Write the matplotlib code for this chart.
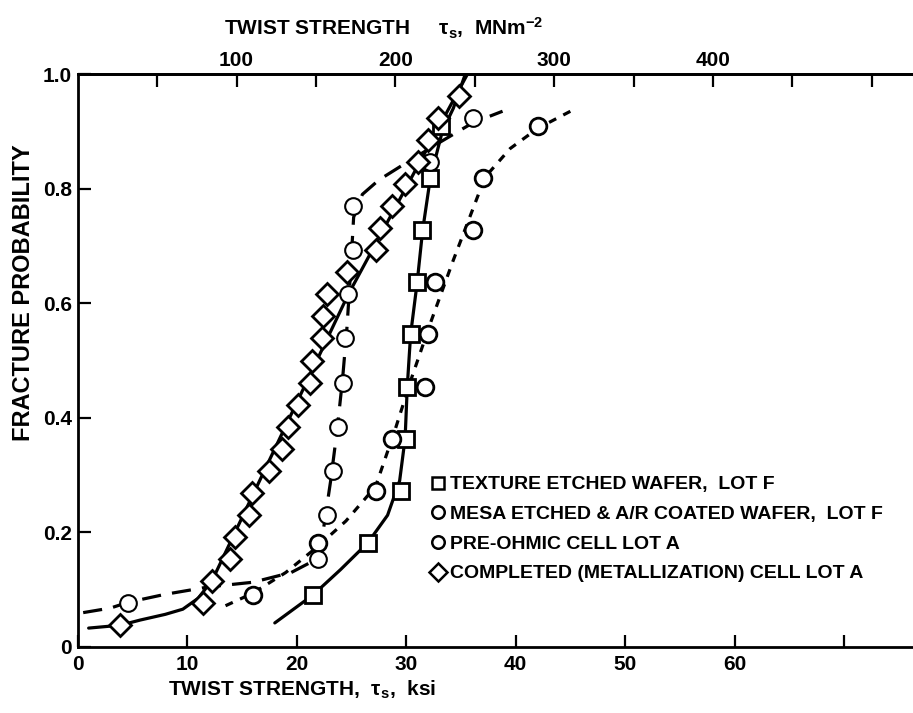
"""
Fracture probability vs twist strength for solar cell wafers
"""

### Import modules
import numpy as np
import matplotlib
matplotlib.use('Agg')
import matplotlib.pyplot as plt
from matplotlib.lines import Line2D

plt.rcParams['font.family'] = ['Liberation Sans', 'DejaVu Sans']
plt.rcParams['font.weight'] = 'bold'
plt.rcParams['mathtext.default'] = 'regular'

### Data (x in ksi, y = fracture probability)
# texture etched wafer, lot F (squares)
sq_x = [21.5, 26.5, 29.5, 30.0, 30.1, 30.4, 31.0, 31.4, 32.2, 33.2]
sq_p = [i/11. for i in range(1, 11)]
sq_fit_x = [18.0, 20.0, 21.5, 24.0, 26.5, 28.3, 29.4, 29.9, 30.1, 30.4, 31.0, 31.5, 32.2, 33.3, 34.3, 35.4]
sq_fit_p = [0.042, 0.07, 0.091, 0.135, 0.182, 0.23, 0.29, 0.364, 0.455, 0.545, 0.636, 0.727, 0.818, 0.9, 0.94, 1.0]

# mesa etched & A/R coated wafer, lot F (circles, short dashes)
me_x = [16.0, 21.9, 27.2, 28.7, 31.7, 32.0, 32.6, 36.1, 37.0, 42.0]
me_p = [i/11. for i in range(1, 11)]
me_fit_x = [13.5, 16.0, 19.0, 21.9, 24.5, 27.2, 29.0, 30.5, 32.3, 34.3, 36.0, 37.2, 39.5, 42.0, 45.0]
me_fit_p = [0.072, 0.094, 0.13, 0.175, 0.22, 0.28, 0.38, 0.47, 0.57, 0.675, 0.76, 0.82, 0.87, 0.905, 0.935]

# pre-ohmic cell lot A (open circles, long dashes)
po_x = [4.6, 21.96, 22.8, 23.3, 23.8, 24.2, 24.4, 24.7, 25.1, 25.1, 32.2, 36.1]
po_p = [i/13. for i in range(1, 13)]
po_fit_x = [0.5, 3.0, 4.6, 8.0, 12.0, 16.0, 19.5, 21.5, 22.4, 23.1, 23.7, 24.2, 24.6, 24.9, 25.2,
            26.0, 27.5, 30.0, 33.0, 36.1, 38.8]
po_fit_p = [0.06, 0.068, 0.078, 0.092, 0.105, 0.113, 0.13, 0.15, 0.2, 0.29, 0.38, 0.47, 0.56, 0.65, 0.75,
            0.79, 0.815, 0.845, 0.88, 0.915, 0.935]

# completed (metallization) cell lot A (diamonds, solid)
di_x = [3.9, 11.4, 12.3, 13.9, 14.4, 15.6, 15.9, 17.5, 18.7, 19.2, 20.1, 21.2, 21.4,
        22.3, 22.4, 22.8, 24.6, 27.2, 27.6, 28.7, 29.9, 31.1, 32.0, 32.9, 34.8]
di_p = [i/26. for i in range(1, 26)]
di_fit_x = [1.0, 3.9, 5.7, 8.0, 9.6, 11.0, 12.3, 24.7, 35.6]
di_fit_p = [0.033, 0.038, 0.047, 0.057, 0.066, 0.085, 0.117, 0.615, 1.0]

labels = ['TEXTURE ETCHED WAFER,  LOT F',
          'MESA ETCHED & A/R COATED WAFER,  LOT F',
          'PRE-OHMIC CELL LOT A',
          'COMPLETED (METALLIZATION) CELL LOT A']

xticks = [0, 10, 20, 30, 40, 50, 60, 70]
xticklabels = ['0', '10', '20', '30', '40', '50', '60', '']
yticks = [0, 0.2, 0.4, 0.6, 0.8, 1.0]
yticklabels = ['0', '0.2', '0.4', '0.6', '0.8', '1.0']
mpa_ticks = [50, 100, 150, 200, 250, 300, 350, 400, 450, 500]
mpa_labels = ['', '100', '', '200', '', '300', '', '400', '', '']
KSI_PER_MPA = 0.145038

###########################################################################
### Plot
W, H = 913, 713
fig = plt.figure(figsize=(W/100., H/100.), dpi=100)
x0, y0, y1 = 77.7, 647., 74.
ax = fig.add_axes([x0/W, (H - y0)/H, (W - x0)/W, (y0 - y1)/H])
ax.set_xlim(0, (W - x0)/10.95)
ax.set_ylim(0, 1)

lw = 2.3
mk = dict(ms=12, mfc='white', mec='black', mew=2.0, ls='none', zorder=3)
ax.plot(sq_fit_x, sq_fit_p, color='black', lw=lw, solid_capstyle='round')
ax.plot(di_fit_x, di_fit_p, color='black', lw=lw, solid_capstyle='round')
ax.plot(me_fit_x, me_fit_p, color='black', lw=lw, dashes=(2.5, 2.5))
ax.plot(po_fit_x, po_fit_p, color='black', lw=lw, dashes=(6, 3.5))

ax.plot(sq_x, sq_p, marker='s', **mk)
ax.plot(me_x, me_p, marker='o', **mk)
ax.plot(po_x, po_p, marker='o', **dict(mk, mew=1.5))
ax.plot(di_x, di_p, marker='D', **dict(mk, ms=11))

### Axes styling
for s in ['left', 'bottom', 'top']:
    ax.spines[s].set_linewidth(2.0)
ax.spines['right'].set_visible(False)
ax.set_xticks(xticks)
ax.set_xticklabels(xticklabels)
ax.set_yticks(yticks)
ax.set_yticklabels(yticklabels)
ax.tick_params(direction='in', length=9, width=1.6, labelsize=15, pad=6)
ax.tick_params(axis='y', pad=4)

top = ax.secondary_xaxis('top', functions=(lambda k: k/KSI_PER_MPA, lambda m: m*KSI_PER_MPA))
top.set_xticks(mpa_ticks)
top.set_xticklabels(mpa_labels)
top.tick_params(direction='in', length=9, width=1.6, labelsize=15, pad=3)
top.spines['top'].set_linewidth(2.0)

fig.text(24/W, 1 - 293/H, 'FRACTURE PROBABILITY', fontsize=17, fontweight='bold',
         rotation=90, ha='center', va='center')
fig.text(302/W, 1 - 690/H, r'TWIST STRENGTH,  $\tau_s$,  ksi', fontsize=15, fontweight='bold',
         ha='center', va='center')
fig.text(384/W, 1 - 28/H, r'TWIST STRENGTH     $\tau_s$,  MNm$^{-2}$', fontsize=15, fontweight='bold',
         ha='center', va='center')

### Legend
handles = [Line2D([], [], marker=m, ls='none', ms=9, mfc='white', mec='black', mew=1.8)
           for m in ['s', 'o', 'o', 'D']]
leg = ax.legend(handles, labels, loc='upper left', bbox_to_anchor=(422/W, 1 - 466/H),
                bbox_transform=fig.transFigure, frameon=False, fontsize=14,
                handlelength=0.6, handletextpad=0.35, labelspacing=0.62, borderpad=0)

plt.savefig('out.png', dpi=100)
